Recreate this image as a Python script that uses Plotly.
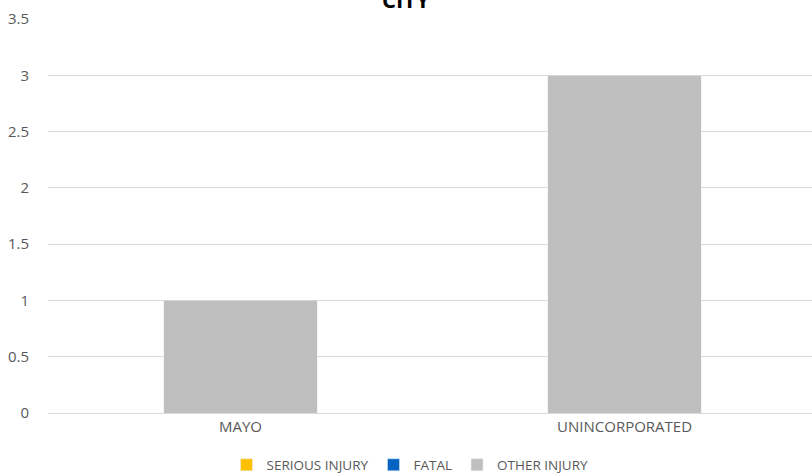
import plotly.graph_objects as go

categories = ["MAYO", "UNINCORPORATED"]
serious_injury = [0, 0]
fatal = [0, 0]
other_injury = [1, 3]
y_ticks = [0, 0.5, 1, 1.5, 2, 2.5, 3, 3.5]
y_tick_labels = ["0", "0.5", "1", "1.5", "2", "2.5", "3", "3.5"]

W, H = 812, 476
L, R, T, B = 48, 0, 19, 63

fig = go.Figure()
fig.add_trace(go.Bar(name="SERIOUS INJURY", x=categories, y=serious_injury, marker_color="#FFC000", width=0.4))
fig.add_trace(go.Bar(name="FATAL", x=categories, y=fatal, marker_color="#0563C1", width=0.4))
fig.add_trace(go.Bar(name="OTHER INJURY", x=categories, y=other_injury, marker_color="#BFBFBF", width=0.4))

font = "Open Sans, Noto Sans, sans-serif"
fig.update_layout(
    width=W, height=H,
    barmode="stack",
    margin=dict(l=L, r=R, t=T, b=B, pad=0, autoexpand=False),
    paper_bgcolor="white", plot_bgcolor="white",
    font=dict(family=font, size=15, color="#595959"),
    showlegend=True,
    legend=dict(orientation="h", xref="container", x=410 / W, xanchor="center",
                yref="container", y=(H - 465) / H, yanchor="middle",
                font=dict(size=13.5, color="#595959"), traceorder="normal",
                itemwidth=30, tracegroupgap=0),
    xaxis=dict(showgrid=False, showline=True, linecolor="#d9d9d9", linewidth=1,
               range=[-0.501, 1.488],
               ticks="", automargin=False, tickfont=dict(size=15, color="#595959")),
    yaxis=dict(range=[0, 3.5], tickvals=y_ticks, ticktext=y_tick_labels,
               showgrid=True, gridcolor="#d9d9d9", gridwidth=1, zeroline=False,
               showline=False, ticks="outside", ticklen=15, tickcolor="white",
               automargin=False, tickfont=dict(size=15, color="#595959")),
)
fig.add_annotation(text="<b>CITY</b>", xref="paper", yref="paper",
                   x=(406 - L) / (W - L - R), y=(H - B + 1) / (H - T - B),
                   xanchor="center", yanchor="middle", showarrow=False,
                   font=dict(family=font, size=22, color="#000000"))
fig.write_html("out.html", config={"displayModeBar": False},
               post_script="document.body.style.margin='0';document.body.style.overflow='hidden';")
